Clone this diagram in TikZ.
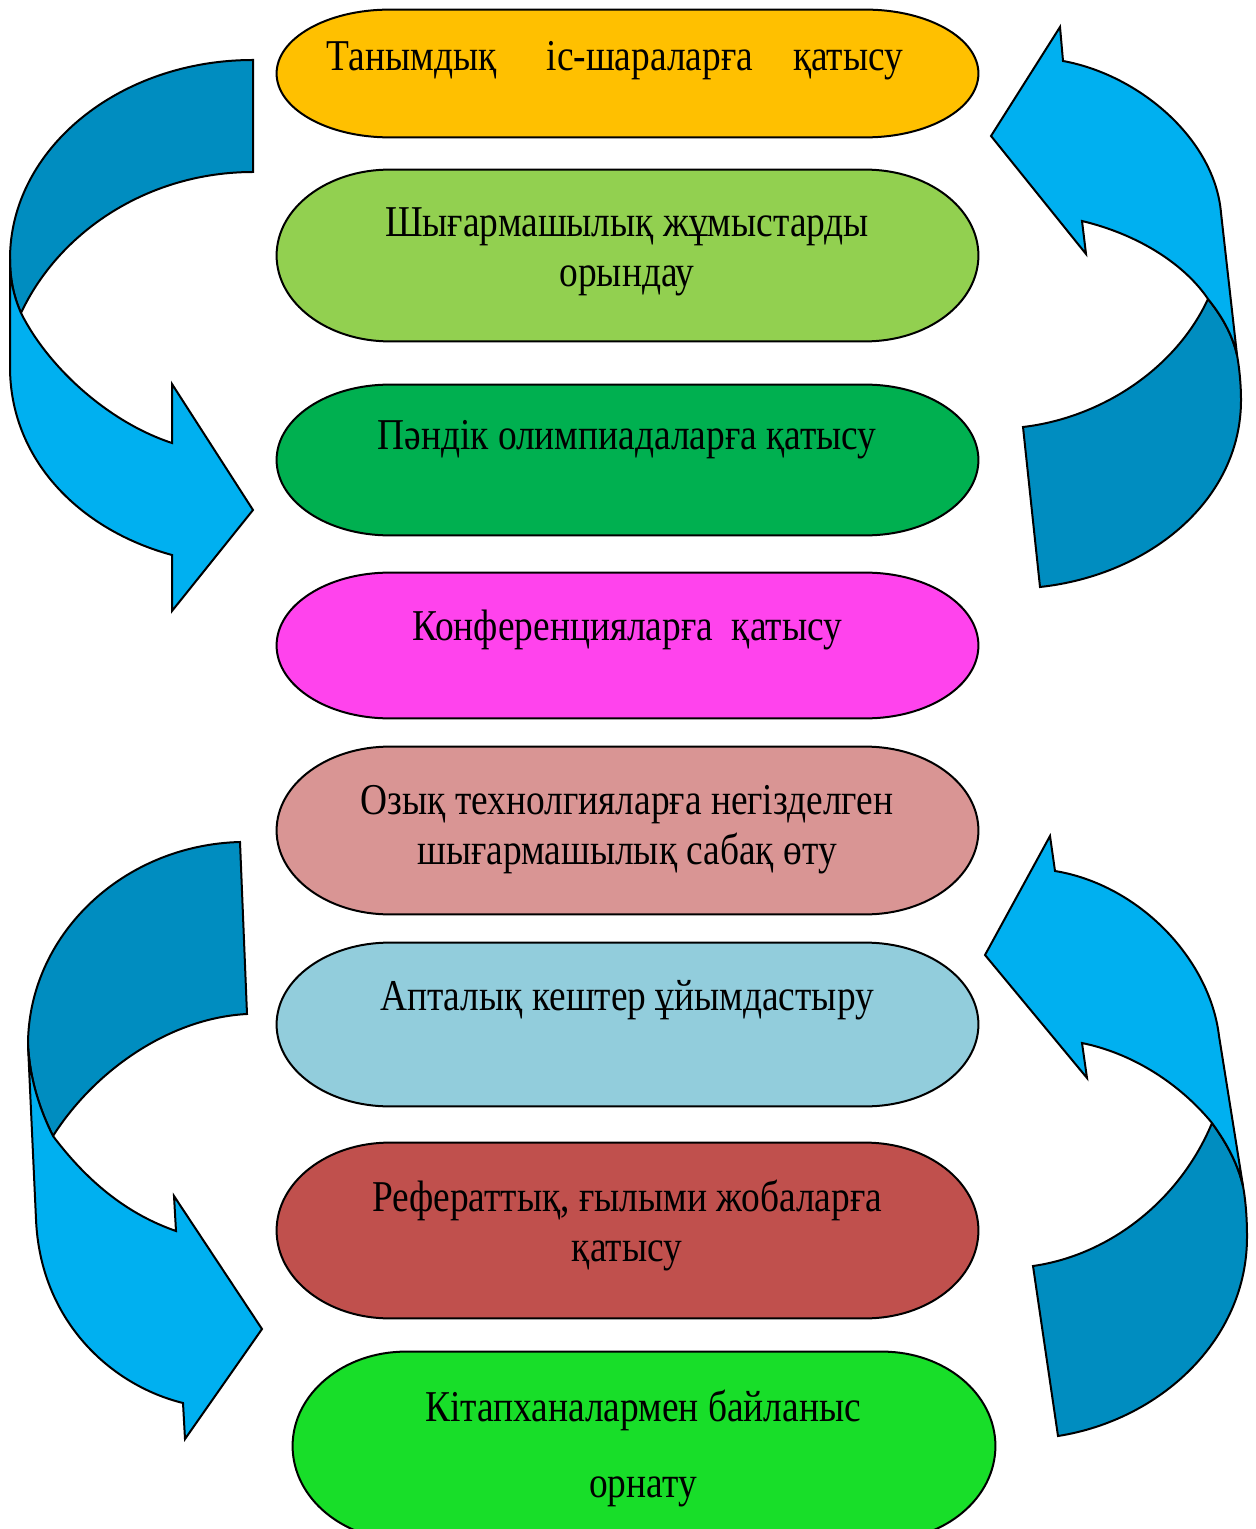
\documentclass[tikz,border=0pt]{standalone}
\usepackage{fontspec}
\setmainfont{Liberation Serif}[FakeStretch=0.85]
\usetikzlibrary{calc}

\definecolor{cyellow}{HTML}{FFC000}
\definecolor{clime}{HTML}{92D050}
\definecolor{cgreen}{HTML}{00B050}
\definecolor{cmagenta}{HTML}{FF43ED}
\definecolor{crose}{HTML}{D99594}
\definecolor{csky}{HTML}{92CDDC}
\definecolor{cbrick}{HTML}{C0504D}
\definecolor{cbright}{HTML}{18DE29}
\definecolor{ribbonfront}{HTML}{00B0F0}
\definecolor{ribbonback}{HTML}{008DC0}

% terminator-like pill drawn around an (invisible) box node
\newcommand\pillpath[2]{%
  \path let \p1=(#1.north west), \p2=(#1.south east),
            \n1={0.161*(\x2-\x1)}, \n2={(\y1-\y2)/2} in
    [pill, fill=#2]
    (\x1+\n1,\y1) -- (\x2-\n1,\y1)
    arc[start angle=90, end angle=-90, x radius={\n1*1pt}, y radius={\n2*1pt}]
    -- (\x1+\n1,\y2)
    arc[start angle=270, end angle=90, x radius={\n1*1pt}, y radius={\n2*1pt}]
    -- cycle;}

\begin{document}
\begin{tikzpicture}[x=0.5pt, y=-0.5pt,
  box/.style={rectangle, draw=none, inner sep=0pt, minimum width=350.5pt},
  pill/.style={draw=black, line width=1pt},
  txt/.style={font=\fontsize{22}{25}\selectfont, align=center, inner sep=0pt},
  ribbonlight/.style={fill=ribbonfront, draw=black, line width=1pt, line join=miter},
  ribbondark/.style={fill=ribbonback, draw=black, line width=1pt, line join=miter}]
\clip (0,0) rectangle (1256,1529);

% boxes and labels
\node[box, minimum height=63.5pt] (b1) at (627.5,73.5) {};
\pillpath{b1}{cyellow}
\node[txt] (t1) at (615,61) {Танымдық\hspace{25pt}іс-шараларға\hspace{20pt}қатысу};

\node[box, minimum height=85.5pt] (b2) at (627.5,255.5) {};
\pillpath{b2}{clime}
\node[txt] (t2) at (627,252) {Шығармашылық жұмыстарды\\орындау};

\node[box, minimum height=75pt] (b3) at (627.5,460) {};
\pillpath{b3}{cgreen}
\node[txt] (t3) at (627,440) {Пәндік олимпиадаларға қатысу};

\node[box, minimum height=72.5pt] (b4) at (627.5,645.5) {};
\pillpath{b4}{cmagenta}
\node[txt] (t4) at (627,630) {Конференцияларға\ \ қатысу};

\node[box, minimum height=83.5pt] (b5) at (627.5,830.5) {};
\pillpath{b5}{crose}
\node[txt] (t5) at (627,830) {Озық технолгияларға негізделген\\шығармашылық сабақ өту};

\node[box, minimum height=81.5pt] (b6) at (627.5,1024.5) {};
\pillpath{b6}{csky}
\node[txt] (t6) at (627,1000) {Апталық кештер ұйымдастыру};

\node[box, minimum height=87.5pt] (b7) at (627.5,1230.5) {};
\pillpath{b7}{cbrick}
\node[txt] (t7) at (627,1225) {Рефераттық, ғылыми жобаларға\\қатысу};

\node[box, minimum width=351pt, minimum height=94pt] (b8) at (644,1446) {};
\pillpath{b8}{cbright}
\node[txt] (t8) at (643,1448) {Кітапханалармен байланыс\\[13pt]орнату};

% ribbon arrow, upper left
\draw[ribbondark] (253,60) -- (253,172)
  .. controls (150,172) and (60,230) .. (21,313)
  .. controls (14,297) and (10,280) .. (10,259)
  .. controls (10,149) and (119,60) .. (253,60) -- cycle;
\draw[ribbonlight] (10,259) .. controls (10,280) and (14,297) .. (21,313)
  .. controls (48,367) and (108,422) .. (172,443)
  -- (172,384) -- (253,510) -- (172,611) -- (172,555)
  .. controls (80,530) and (10,460) .. (10,367) -- cycle;

% ribbon arrow, upper right
\draw[ribbondark] (1040,587) -- (1023,427)
  .. controls (1100,418) and (1175,370) .. (1208,299)
  .. controls (1225,320) and (1233,338) .. (1237,355)
  .. controls (1240,372) and (1241,388) .. (1241,400)
  .. controls (1241,500) and (1150,575) .. (1040,587) -- cycle;
\draw[ribbonlight] (1063,61) .. controls (1140,75) and (1215,140) .. (1221,213)
  -- (1237,355)
  .. controls (1233,338) and (1225,320) .. (1208,299)
  .. controls (1185,265) and (1140,235) .. (1082,221)
  -- (1086,254) -- (991,136) -- (1060,27) -- cycle;

% ribbon arrow, lower left
\draw[ribbondark] (240,842) -- (247,1014)
  .. controls (170,1018) and (95,1070) .. (53,1136)
  .. controls (40,1110) and (30,1080) .. (28,1045)
  .. controls (28,935) and (123,845) .. (240,842) -- cycle;
\draw[ribbonlight] (28,1045) .. controls (30,1080) and (40,1110) .. (53,1136)
  .. controls (90,1185) and (130,1215) .. (176,1231)
  -- (174,1196) -- (262,1329) -- (185,1439) -- (183,1403)
  .. controls (110,1385) and (40,1320) .. (36,1219) -- cycle;

% ribbon arrow, lower right
\draw[ribbondark] (1058,1436) -- (1033,1266)
  .. controls (1110,1255) and (1180,1200) .. (1212,1123)
  .. controls (1228,1145) and (1238,1165) .. (1243,1186)
  .. controls (1246,1203) and (1247,1220) .. (1247,1237)
  .. controls (1247,1340) and (1160,1420) .. (1058,1436) -- cycle;
\draw[ribbonlight] (1055,871) .. controls (1140,885) and (1210,960) .. (1219,1036)
  -- (1243,1186)
  .. controls (1238,1165) and (1228,1145) .. (1212,1123)
  .. controls (1185,1090) and (1140,1055) .. (1082,1043)
  -- (1087,1078) -- (985,955) -- (1050,836) -- cycle;
\end{tikzpicture}
\end{document}
